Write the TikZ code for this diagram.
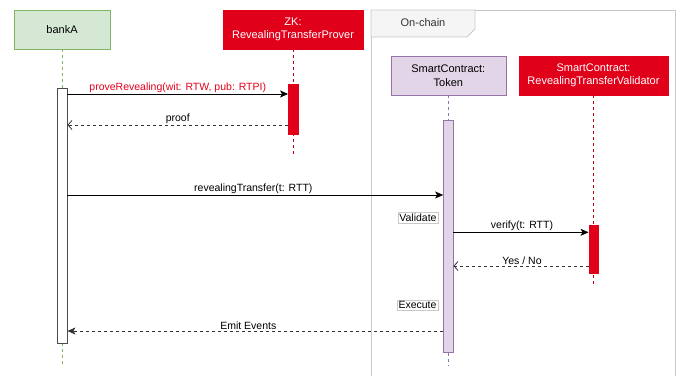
\documentclass[tikz,border=0pt]{standalone}
\usepackage{fontspec}
\setmainfont{Liberation Sans}
\usetikzlibrary{arrows.meta}
\definecolor{zkred}{HTML}{E1001A}
\definecolor{zkredline}{HTML}{C00016}
\definecolor{grfill}{HTML}{D5E8D4}
\definecolor{grline}{HTML}{82B366}
\definecolor{pufill}{HTML}{E1D5E7}
\definecolor{puline}{HTML}{9673A6}
\definecolor{framec}{HTML}{C8C8C8}
\definecolor{tabfill}{HTML}{F5F5F5}
\tikzset{
  actor/.style={draw, minimum height=39pt, align=center, inner sep=0pt, font=\fontsize{11}{13.5}\selectfont},
  greenactor/.style={actor, fill=grfill, draw=grline, minimum width=96pt},
  redactor/.style={actor, fill=zkred, draw=zkred, text=white},
  purpleactor/.style={actor, fill=pufill, draw=puline, minimum width=115pt},
  lifeline/.style={dashed, dash pattern=on 3pt off 3pt, line width=0.8pt},
  actbar/.style={draw, inner sep=0pt, minimum width=9.5pt},
  msg/.style={-{Stealth[length=8pt,width=7pt,inset=2pt]}, line width=0.8pt},
  ret/.style={-{Straight Barb[length=4pt,width=9pt]}, dashed, dash pattern=on 3pt off 3pt, line width=0.8pt, draw=black!80},
  emit/.style={-{Stealth[length=8pt,width=7pt,inset=2pt]}, dashed, dash pattern=on 3pt off 3pt, line width=0.8pt, draw=black!80},
  lbl/.style={font=\fontsize{10.5}{12}\selectfont, inner sep=1pt},
  stepnote/.style={draw=framec, fill=white, inner sep=1.5pt, font=\fontsize{10.5}{12}\selectfont}
}
\begin{document}
\begin{tikzpicture}[x=1pt,y=-1pt]
\useasboundingbox (0,0) rectangle (677,375);
\clip (0,0) rectangle (677,375);
% On-chain frame
\draw[framec, line width=0.8pt] (371,380) -- (371,10) -- (675,10) -- (675,380);
\draw[framec, fill=tabfill, line width=0.8pt] (371,10) -- (475,10) -- (475,29) -- (467,37) -- (371,37) -- cycle;
\node[font=\fontsize{11}{13}\selectfont, text=black!80] (onchain) at (423,23) {On-chain};

% actors
\node[greenactor] (bankA) at (62,29.5) {bankA};
\node[redactor, minimum width=140pt] (zk) at (293,29.5) {ZK:\\RevealingTransferProver};
\node[purpleactor] (token) at (448.3,75.5) {SmartContract:\\Token};
\node[redactor, minimum width=149pt] (val) at (593.5,75.5) {SmartContract:\\RevealingTransferValidator};

% lifeline end coordinates
\coordinate (bankEnd) at (62,366);
\coordinate (zkEnd) at (293,155);
\coordinate (tokEnd) at (448.3,366);
\coordinate (valEnd) at (593.5,287);
\draw[lifeline, grline] (bankA.south) -- (bankEnd);
\draw[lifeline, zkredline] (zk.south) -- (zkEnd);
\draw[lifeline, puline] (token.south) -- (tokEnd);
\draw[lifeline, zkredline] (val.south) -- (valEnd);

% activation bars
\node[actbar, fill=white, draw=black!70, line width=0.8pt, minimum height=255pt] (bankAct) at (62.3,215.5) {};
\node[actbar, fill=zkred, draw=zkred, minimum height=50pt] (zkAct) at (293,109) {};
\node[actbar, fill=pufill, draw=puline, line width=0.8pt, minimum height=232pt] (tokAct) at (448.3,236) {};
\node[actbar, fill=zkred, draw=zkred, minimum height=48pt] (valAct) at (593.5,249.5) {};

% messages
\draw[msg] (bankAct.east |- 0,94) -- node[lbl, above, text=zkred] (l1) {proveRevealing(wit: RTW, pub: RTPI)} (zkAct.west |- 0,94);
\draw[ret] (zkAct.west |- 0,125) -- node[lbl, above] (l2) {proof} (bankAct.east |- 0,125);
\draw[msg] (bankAct.east |- 0,195) -- node[lbl, above, xshift=-2pt] (l3) {revealingTransfer(t: RTT)} (tokAct.west |- 0,195);
\node[stepnote] (validate) at (418,218) {Validate};
\draw[msg] (tokAct.east |- 0,232.3) -- node[lbl, above, xshift=1pt] (l4) {verify(t: RTT)} (valAct.west |- 0,232.3);
\draw[ret] (valAct.west |- 0,266) -- node[lbl, above, xshift=1pt] (l5) {Yes / No} (tokAct.east |- 0,266);
\node[stepnote] (execute) at (417.5,305) {Execute};
\draw[emit] (tokAct.west |- 0,331) -- node[lbl, above, xshift=-7pt] (l6) {Emit Events} (bankAct.east |- 0,331);
\end{tikzpicture}
\end{document}
